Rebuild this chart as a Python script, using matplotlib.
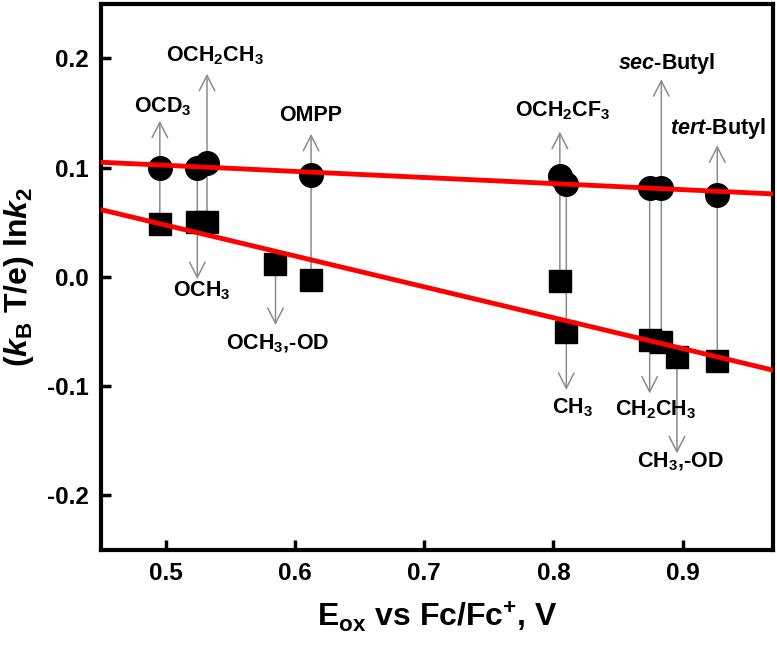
import numpy as np
import matplotlib
matplotlib.use("Agg")
import matplotlib.pyplot as plt

# --- data ---
compounds = ["OCD3", "OCH3", "OCH2CH3", "OCH3,-OD", "OMPP", "OCH2CF3",
             "CH3", "CH2CH3", "sec-Butyl", "CH3,-OD", "tert-Butyl"]
e_ox = [0.4955, 0.5245, 0.532, 0.585, 0.6125, 0.805,
        0.810, 0.8745, 0.8835, 0.8956, 0.9268]
circle_vals = [0.100, 0.100, 0.1046, np.nan, 0.0933, 0.0924,
               0.085, 0.081, 0.081, np.nan, 0.0747]
square_vals = [0.048, 0.0506, 0.0506, 0.012, -0.003, -0.004,
               -0.050, -0.058, -0.060, -0.073, -0.077]

# linear fits (end points)
fit_x = [0.45, 0.97]
fit_circle = [0.105, 0.076]
fit_square = [0.0616, -0.0854]

# annotation arrows: which marker they start from, and where the tip is
arrow_from = ["square", "circle", "square", "square", "square", "square",
              "circle", "circle", "square", "square", "square"]
arrow_tip = [0.143, -0.002, 0.186, -0.044, 0.131, 0.133,
             -0.1035, -0.1067, 0.181, -0.1616, 0.1205]

label_text = [r"OCD$_3$", r"OCH$_3$", r"OCH$_2$CH$_3$", r"OCH$_3$,-OD", "OMPP",
              r"OCH$_2$CF$_3$", r"CH$_3$", r"CH$_2$CH$_3$", r"$\mathit{sec}$-Butyl",
              r"CH$_3$,-OD", r"$\mathit{tert}$-Butyl"]
label_xy = [(0.4975, 0.1555), (0.528, -0.0128), (0.538, 0.2027), (0.5865, -0.061),
            (0.6125, 0.148), (0.807, 0.152), (0.8145, -0.120), (0.879, -0.1217),
            (0.8874, 0.195), (0.898, -0.169), (0.9276, 0.136)]

plt.rcParams['font.family'] = ['Liberation Sans', 'DejaVu Sans']
plt.rcParams['font.weight'] = 'bold'
plt.rcParams['mathtext.fontset'] = 'custom'
plt.rcParams['mathtext.rm'] = 'Liberation Sans:bold'
plt.rcParams['mathtext.it'] = 'Liberation Sans:bold:italic'
plt.rcParams['mathtext.bf'] = 'Liberation Sans:bold'

fig = plt.figure(figsize=(7.77, 6.47), dpi=100)
ax = fig.add_axes([0.130, 0.150, 0.865, 0.844])

# arrows (behind markers) and their labels
for i, name in enumerate(compounds):
    start = square_vals[i] if arrow_from[i] == "square" else circle_vals[i]
    ax.annotate("", xy=(e_ox[i], arrow_tip[i]), xytext=(e_ox[i], start),
                arrowprops=dict(arrowstyle="->,head_length=0.55,head_width=0.28",
                                color="#8c8c8c", lw=1.1, mutation_scale=20,
                                shrinkA=0, shrinkB=0),
                zorder=1)
    ax.text(label_xy[i][0], label_xy[i][1], label_text[i], ha="center",
            va="center", fontsize=15.5, fontweight="bold", zorder=5)

ax.plot(e_ox, circle_vals, "o", color="black", markersize=17, zorder=3)
ax.plot(e_ox, square_vals, "s", color="black", markersize=16, zorder=3)

ax.plot(fit_x, fit_circle, color="#ff0000", lw=3.5, zorder=4)
ax.plot(fit_x, fit_square, color="#ff0000", lw=3.5, zorder=4)

ax.set_xlim(0.45, 0.97)
ax.set_ylim(-0.25, 0.25)
ax.set_xticks([0.5, 0.6, 0.7, 0.8, 0.9])
ax.set_yticks([-0.2, -0.1, 0.0, 0.1, 0.2])
ax.set_xticklabels(["0.5", "0.6", "0.7", "0.8", "0.9"])
ax.set_yticklabels(["-0.2", "-0.1", "0.0", "0.1", "0.2"])

for s in ax.spines.values():
    s.set_linewidth(3)
ax.tick_params(direction="in", length=7, width=2.5, labelsize=17.5, pad=9)

ax.set_xlabel(r"E$_{\mathrm{ox}}$ vs Fc/Fc$^{+}$, V", fontsize=23,
              fontweight="bold", labelpad=10)
ax.set_ylabel(r"($\mathit{k}_{\mathrm{B}}$ T/e) ln$\mathit{k}_{2}$", fontsize=23,
              fontweight="bold", labelpad=8)

fig.savefig("out.png", dpi=100)
